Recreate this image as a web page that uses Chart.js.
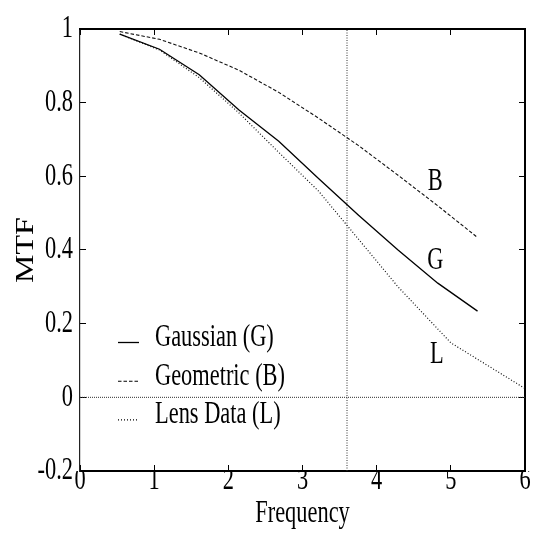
<!DOCTYPE html>
<html>
<head>
<meta charset="utf-8">
<title>MTF vs Frequency</title>
<script src="https://cdn.jsdelivr.net/npm/chart.js@4.4.1/dist/chart.umd.min.js"></script>
<style>
  html, body { margin: 0; padding: 0; background: #fff; }
  #wrap { position: relative; width: 533px; height: 540px; }
</style>
</head>
<body>
<div id="wrap"><canvas id="mtfChart"></canvas></div>
<script>
// Sample frequencies for the two model curves
const freqModel = [0.536, 1.072, 1.608, 2.144, 2.68, 3.216, 3.752, 4.288, 4.824, 5.36];
const mtfGaussian = [0.986, 0.945, 0.876, 0.78, 0.695, 0.594, 0.495, 0.40, 0.31, 0.234];
const mtfGeometric = [0.993, 0.972, 0.935, 0.888, 0.828, 0.758, 0.684, 0.603, 0.52, 0.434];

// Measured lens data
const freqLens = [0.536, 1.072, 1.608, 2.144, 2.68, 3.216, 3.752, 4.288, 5.0, 6.0];
const mtfLens = [0.986, 0.943, 0.868, 0.772, 0.665, 0.56, 0.43, 0.30, 0.148, 0.024];

const xTicks = [0, 1, 2, 3, 4, 5, 6];
const xTickLabels = ['0', '1', '2', '3', '4', '5', '6'];
const yTicks = [-0.2, 0, 0.2, 0.4, 0.6, 0.8, 1];
const yTickLabels = ['-0.2', '0', '0.2', '0.4', '0.6', '0.8', '1'];

const cursorFreq = 3.6;
const seriesNames = ['Gaussian (G)', 'Geometric (B)', 'Lens Data (L)'];

// curve tags written next to the curves
const tagLetters = ['B', 'G', 'L'];
const tagFreq = [4.79, 4.79, 4.81];
const tagMtf = [0.587, 0.372, 0.117];

const FONT = { family: '"Liberation Serif", "Times New Roman", serif', size: 32, lineHeight: 1 };
const FONT_CSS = '32px "Liberation Serif", "Times New Roman", serif';

const toPoints = (xs, ys) => xs.map((x, i) => ({ x: x, y: ys[i] }));

const canvas = document.getElementById('mtfChart');
const ctx = canvas.getContext('2d');

// the original looks horizontally squeezed: narrow every text along the page x
const rawFillText = ctx.fillText.bind(ctx);
ctx.fillText = function (text, x, y) {
  const m = ctx.getTransform();
  const rotated = Math.abs(m.b) > 0.5;
  ctx.save();
  ctx.translate(x, y);
  if (rotated) ctx.scale(1, 0.78);
  else ctx.scale(0.7, 1);
  rawFillText(text, 0, 0);
  ctx.restore();
};

const legendAndTags = {
  id: 'legendAndTags',
  afterDatasetsDraw(chart) {
    const c = chart.ctx;
    const area = chart.chartArea;
    const xs = chart.scales.x;
    const ys = chart.scales.y;
    c.save();
    c.font = FONT_CSS;
    c.fillStyle = '#000';
    c.textBaseline = 'middle';

    // legend, lower left of the plot
    for (let i = 0; i < 3; i++) {
      const ds = chart.data.datasets[i];
      const rowY = area.bottom - 133.5 + i * 38.7;
      c.strokeStyle = '#000';
      c.lineWidth = ds.borderWidth;
      c.setLineDash(ds.borderDash || []);
      c.beginPath();
      c.moveTo(area.left + 38, rowY + 5);
      c.lineTo(area.left + 59, rowY + 5);
      c.stroke();
      c.textAlign = 'left';
      c.fillText(seriesNames[i], area.left + 75, rowY);
    }

    // B / G / L letters
    c.setLineDash([]);
    c.textAlign = 'center';
    tagLetters.forEach((t, i) => {
      c.fillText(t, xs.getPixelForValue(tagFreq[i]), ys.getPixelForValue(tagMtf[i]));
    });
    c.restore();
  }
};

const axisCommon = {
  type: 'linear',
  grid: { drawOnChartArea: false, tickLength: -6, color: '#000', lineWidth: 1 },
  border: { color: '#000', width: 2 }
};

new Chart(ctx, {
  type: 'line',
  data: {
    datasets: [
      {
        label: seriesNames[0],
        data: toPoints(freqModel, mtfGaussian),
        borderColor: '#000',
        borderWidth: 1.3,
        pointRadius: 0,
        tension: 0
      },
      {
        label: seriesNames[1],
        data: toPoints(freqModel, mtfGeometric),
        borderColor: '#111',
        borderWidth: 1.1,
        borderDash: [3.5, 2],
        pointRadius: 0,
        tension: 0
      },
      {
        label: seriesNames[2],
        data: toPoints(freqLens, mtfLens),
        borderColor: '#111',
        borderWidth: 1.2,
        borderDash: [1, 2],
        pointRadius: 0,
        tension: 0
      },
      {
        label: 'cursor',
        data: [{ x: cursorFreq, y: yTicks[0] }, { x: cursorFreq, y: yTicks[yTicks.length - 1] }],
        borderColor: '#333',
        borderWidth: 1,
        borderDash: [1, 1.5],
        pointRadius: 0
      },
      {
        label: 'zero',
        data: [{ x: xTicks[0], y: 0 }, { x: xTicks[xTicks.length - 1], y: 0 }],
        borderColor: '#333',
        borderWidth: 1,
        borderDash: [1, 1],
        pointRadius: 0
      }
    ]
  },
  options: {
    responsive: true,
    maintainAspectRatio: false,
    animation: false,
    events: [],
    layout: { padding: 0, autoPadding: false },
    plugins: {
      legend: { display: false },
      tooltip: { enabled: false }
    },
    scales: {
      x: {
        ...axisCommon,
        position: 'bottom',
        min: xTicks[0],
        max: xTicks[xTicks.length - 1],
        afterBuildTicks: s => { s.ticks = xTicks.map(v => ({ value: v })); },
        afterFit: s => { s.height = 69; },
        ticks: {
          color: '#000', font: FONT, padding: 0, maxRotation: 0, autoSkip: false,
          callback: (v, i) => xTickLabels[i]
        },
        title: { display: true, text: 'Frequency', color: '#000', font: FONT, padding: { top: 0, bottom: 10 } }
      },
      y: {
        ...axisCommon,
        position: 'left',
        min: yTicks[0],
        max: yTicks[yTicks.length - 1],
        border: { color: '#222', width: 1.2 },
        afterBuildTicks: s => { s.ticks = yTicks.map(v => ({ value: v })); },
        afterFit: s => { s.width = 80; },
        ticks: {
          color: '#000', font: FONT, padding: 13, autoSkip: false,
          callback: (v, i) => yTickLabels[i]
        },
        title: { display: true, text: 'MTF', color: '#000', font: FONT, padding: { top: 10, bottom: 0 } }
      },
      x2: {
        ...axisCommon,
        position: 'top',
        min: xTicks[0],
        max: xTicks[xTicks.length - 1],
        afterBuildTicks: s => { s.ticks = xTicks.map(v => ({ value: v })); },
        afterFit: s => { s.height = 24; },
        ticks: { display: false }
      },
      y2: {
        ...axisCommon,
        position: 'right',
        min: yTicks[0],
        max: yTicks[yTicks.length - 1],
        afterBuildTicks: s => { s.ticks = yTicks.map(v => ({ value: v })); },
        afterFit: s => { s.width = 8; },
        ticks: { display: false }
      }
    }
  },
  plugins: [legendAndTags]
});
</script>
</body>
</html>
